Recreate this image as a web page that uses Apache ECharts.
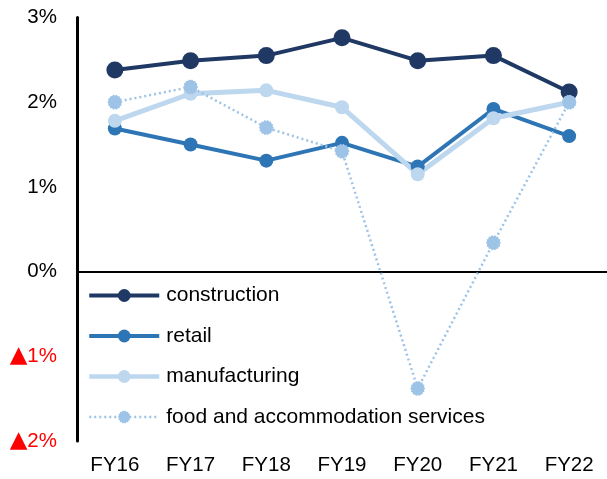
<!DOCTYPE html>
<html>
<head>
<meta charset="utf-8">
<script src="https://cdn.jsdelivr.net/npm/echarts@6/dist/echarts.min.js"></script>
<style>
html,body{margin:0;padding:0;background:#fff;}
#main{width:607px;height:479px;}
</style>
</head>
<body>
<div id="main"></div>
<script>
// data (percent)
var years = ['FY16', 'FY17', 'FY18', 'FY19', 'FY20', 'FY21', 'FY22'];
var construction = [2.38, 2.49, 2.55, 2.76, 2.49, 2.55, 2.12];
var retail = [1.69, 1.50, 1.31, 1.52, 1.24, 1.92, 1.60];
var manufacturing = [1.78, 2.10, 2.14, 1.94, 1.15, 1.81, 2.00];
var foodAccom = [2.00, 2.18, 1.70, 1.42, -1.38, 0.34, 2.00];

var FONT = '"Liberation Sans", Arial, sans-serif';

// jagged round marker for the dotted series
function gearPath() {
	var pts = [];
	var n = 28;
	for (var i = 0; i < n; i++) {
		var a = Math.PI * 2 * i / n;
		var r = (i % 2 == 0) ? 10 : 8.6;
		pts.push((10 + r * Math.cos(a)).toFixed(2) + ' ' + (10 + r * Math.sin(a)).toFixed(2));
	}
	return 'path://M' + pts.join(' L') + ' Z';
}
var GEAR = gearPath();

var chart = echarts.init(document.getElementById('main'));

function mkSeries(name, data, color, width, size, symbol, lineType) {
	return {
		name: name,
		type: 'line',
		data: data,
		symbol: symbol || 'circle',
		symbolSize: size,
		showAllSymbol: true,
		animation: false,
		itemStyle: { color: color },
		lineStyle: { color: color, width: width, type: lineType || 'solid' },
		emphasis: { disabled: true }
	};
}

function legendItem(name, color, width, lineType) {
	return {
		name: name,
		itemStyle: { color: color },
		lineStyle: { color: color, width: width, type: lineType || 'solid' }
	};
}

var option = {
	animation: false,
	grid: { left: 77, right: 0, top: 17.5, bottom: 38 },
	legend: {
		orient: 'vertical',
		left: 87,
		top: 285,
		padding: 0,
		itemWidth: 70,
		itemHeight: 16,
		itemGap: 19.5,
		textStyle: { fontFamily: FONT, fontSize: 21, color: '#000', padding: [0, 0, 0, 2] },
		data: [
			legendItem('construction', '#203864', 4),
			legendItem('retail', '#2e75b6', 4),
			legendItem('manufacturing', '#bdd7ee', 4.5),
			legendItem('food and accommodation services', '#9dc3e6', 2.5, [2, 3])
		]
	},
	xAxis: [{
		type: 'category',
		data: years,
		axisLine: { show: false, onZero: false },
		axisTick: { show: false },
		axisLabel: { fontFamily: FONT, fontSize: 20.5, color: '#000', margin: 14 }
	}, {
		type: 'category',
		data: years,
		position: 'bottom',
		axisLine: { show: true, onZero: true, lineStyle: { color: '#000', width: 2 } },
		axisTick: { show: false },
		axisLabel: { show: false }
	}],
	yAxis: {
		type: 'value',
		min: -2,
		max: 3,
		interval: 1,
		axisLine: { show: true, lineStyle: { color: '#000', width: 3 } },
		axisTick: { show: false },
		splitLine: { show: false },
		axisLabel: {
			margin: 20,
			fontFamily: FONT,
			fontSize: 20.5,
			color: '#000',
			formatter: function (v) {
				if (v < 0) return '{tri|\u25B2}{neg|' + Math.abs(v) + '%}';
				return v + '%';
			},
			rich: {
				tri: { color: '#ff0000', fontFamily: '"DejaVu Sans"', fontSize: 23 },
				neg: { color: '#ff0000', fontFamily: FONT, fontSize: 20.5 }
			}
		}
	},
	series: [
		mkSeries('construction', construction, '#203864', 4, 17),
		mkSeries('retail', retail, '#2e75b6', 4, 14),
		mkSeries('manufacturing', manufacturing, '#bdd7ee', 5, 14),
		mkSeries('food and accommodation services', foodAccom, '#9dc3e6', 2.5, 15, GEAR, [2, 3])
	]
};

chart.setOption(option);
</script>
</body>
</html>
